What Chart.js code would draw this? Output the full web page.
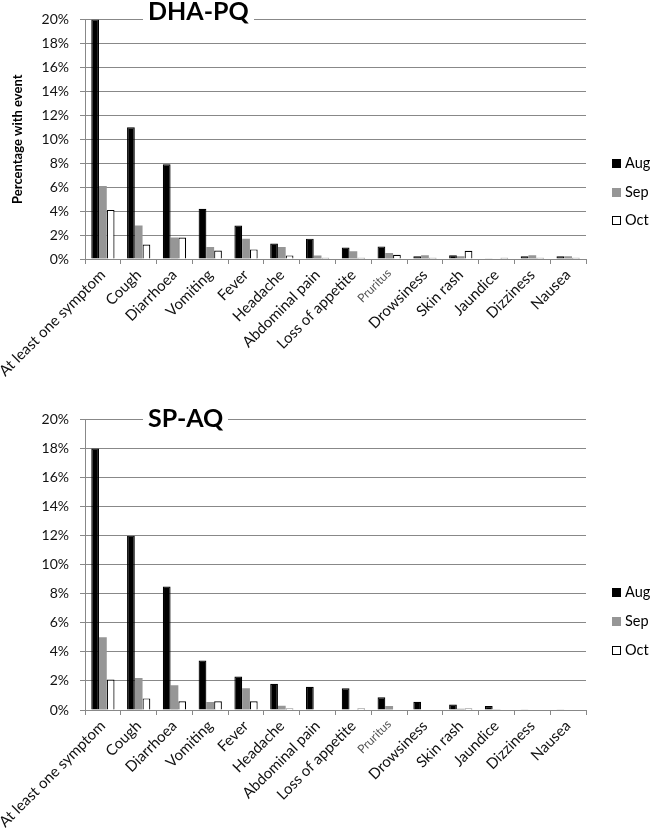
<!DOCTYPE html>
<html><head><meta charset="utf-8">
<script src="https://cdn.jsdelivr.net/npm/chart.js@4.4.1/dist/chart.umd.min.js"></script>
<style>
html,body{margin:0;padding:0;background:#fff}
body{width:650px;height:834px;position:relative;overflow:hidden;font-family:Lato,sans-serif}
.wrap{position:absolute;left:0;width:650px}
.title{position:absolute;background:#fff;font-family:Lato,sans-serif;font-weight:bold;font-size:25px;line-height:25px;padding:0 5px;color:#000;white-space:nowrap}
.leg{position:absolute;left:612px;font-family:Lato,sans-serif;font-size:14.5px;line-height:16px;color:#000;white-space:nowrap}
.leg i{display:inline-block;width:9px;height:9px;box-sizing:border-box;margin-right:4px;vertical-align:0px}
</style></head>
<body>
<div class="wrap" style="top:0;height:400px"><canvas id="c1" width="650" height="400"></canvas></div>
<div class="wrap" style="top:400px;height:434px"><canvas id="c2" width="650" height="434"></canvas></div>
<div class="title" style="left:143px;top:-2px">DHA-PQ</div>
<div class="title" style="left:143px;top:405px">SP-AQ</div>
<div id="leg1"></div>
<div id="leg2"></div>
<script>
const categories = ["At least one symptom","Cough","Diarrhoea","Vomiting","Fever","Headache","Abdominal pain","Loss of appetite","Pruritus","Drowsiness","Skin rash","Jaundice","Dizziness","Nausea"];
const seriesNames = ["Aug","Sep","Oct"];
const yTicks = [0,2,4,6,8,10,12,14,16,18,20];

const dhaAug = [20, 11.0, 7.9, 4.2, 2.8, 1.3, 1.7, 0.95, 1.05, 0.22, 0.32, 0.06, 0.22, 0.22];
const dhaSep = [6.1, 2.8, 1.8, 1.0, 1.7, 1.0, 0.3, 0.65, 0.5, 0.32, 0.22, 0.05, 0.32, 0.22];
const dhaOct = [4.1, 1.2, 1.8, 0.7, 0.8, 0.3, 0.1, 0.1, 0.35, 0.1, 0.68, 0.1, 0.1, 0.1];

const spAug = [18.0, 12.0, 8.5, 3.4, 2.3, 1.8, 1.6, 1.5, 0.88, 0.56, 0.38, 0.27, 0.06, 0.06];
const spSep = [5.0, 2.2, 1.7, 0.55, 1.5, 0.3, 0, 0, 0.27, 0, 0.08, 0.05, 0, 0];
const spOct = [2.1, 0.8, 0.6, 0.6, 0.6, 0.1, 0, 0.1, 0, 0, 0.1, 0, 0, 0];

const fills = ["#000000","#969696","#ffffff"];
const borders = ["#000000","#969696","#000000"];
const GRID = "#888888";

function makeLegend(id, centers){
  const el = document.getElementById(id);
  seriesNames.forEach((n,i)=>{
    const d = document.createElement('div');
    d.className='leg';
    d.style.top = (centers[i]-8)+'px';
    d.innerHTML = '<i style="background:'+fills[i]+';border:1px solid '+borders[i]+'"></i>'+n;
    el.appendChild(d);
  });
}
makeLegend('leg1',[163,192,220]);
makeLegend('leg2',[592,621,650]);

function build(id, data, showTitle, xAxisHeight, padTop){
  const datasets = seriesNames.map((n,i)=>({
    label:n, data:data[i],
    backgroundColor:fills[i], borderColor:borders[i],
    borderWidth: i===1?0:1.2,
    barPercentage:1, categoryPercentage:0.65
  }));
  return new Chart(document.getElementById(id),{
    type:'bar',
    data:{labels:categories, datasets},
    options:{
      responsive:false, animation:false,
      layout:{padding:{top:padTop,left:0,right:64,bottom:0}},
      plugins:{legend:{display:false},tooltip:{enabled:false},title:{display:false}},
      scales:{
        x:{
          grid:{display:true,drawOnChartArea:false,drawTicks:true,tickLength:5,color:GRID,offset:true},
          border:{display:true,color:GRID,width:1},
          ticks:{
            autoSkip:false,minRotation:45,maxRotation:45,padding:2,
            color:(c)=>c.index===8?'#555':'#111',
            font:(c)=>({family:'Lato',size:c.index===8?12:15})
          },
          afterFit:(s)=>{s.height=xAxisHeight;s.paddingLeft=0;s.paddingRight=0;}
        },
        y:{
          min:0,max:20,
          afterBuildTicks:(s)=>{s.ticks=yTicks.map(v=>({value:v}));},
          grid:{color:GRID,lineWidth:1,tickLength:5,drawTicks:true},
          border:{display:true,color:GRID,width:1},
          ticks:{color:'#111',padding:11,font:{family:'Lato',size:14},callback:(v)=>v+'%'},
          title:{display:showTitle,text:'Percentage with event',color:'#000',font:{family:'Lato',size:13,weight:'bold'},padding:{top:10,bottom:0}},
          afterFit:(s)=>{s.width=85;}
        }
      }
    }
  });
}
build('c1',[dhaAug,dhaSep,dhaOct],true,141,0);
build('c2',[spAug,spSep,spOct],false,124,6);
</script>
</body></html>
